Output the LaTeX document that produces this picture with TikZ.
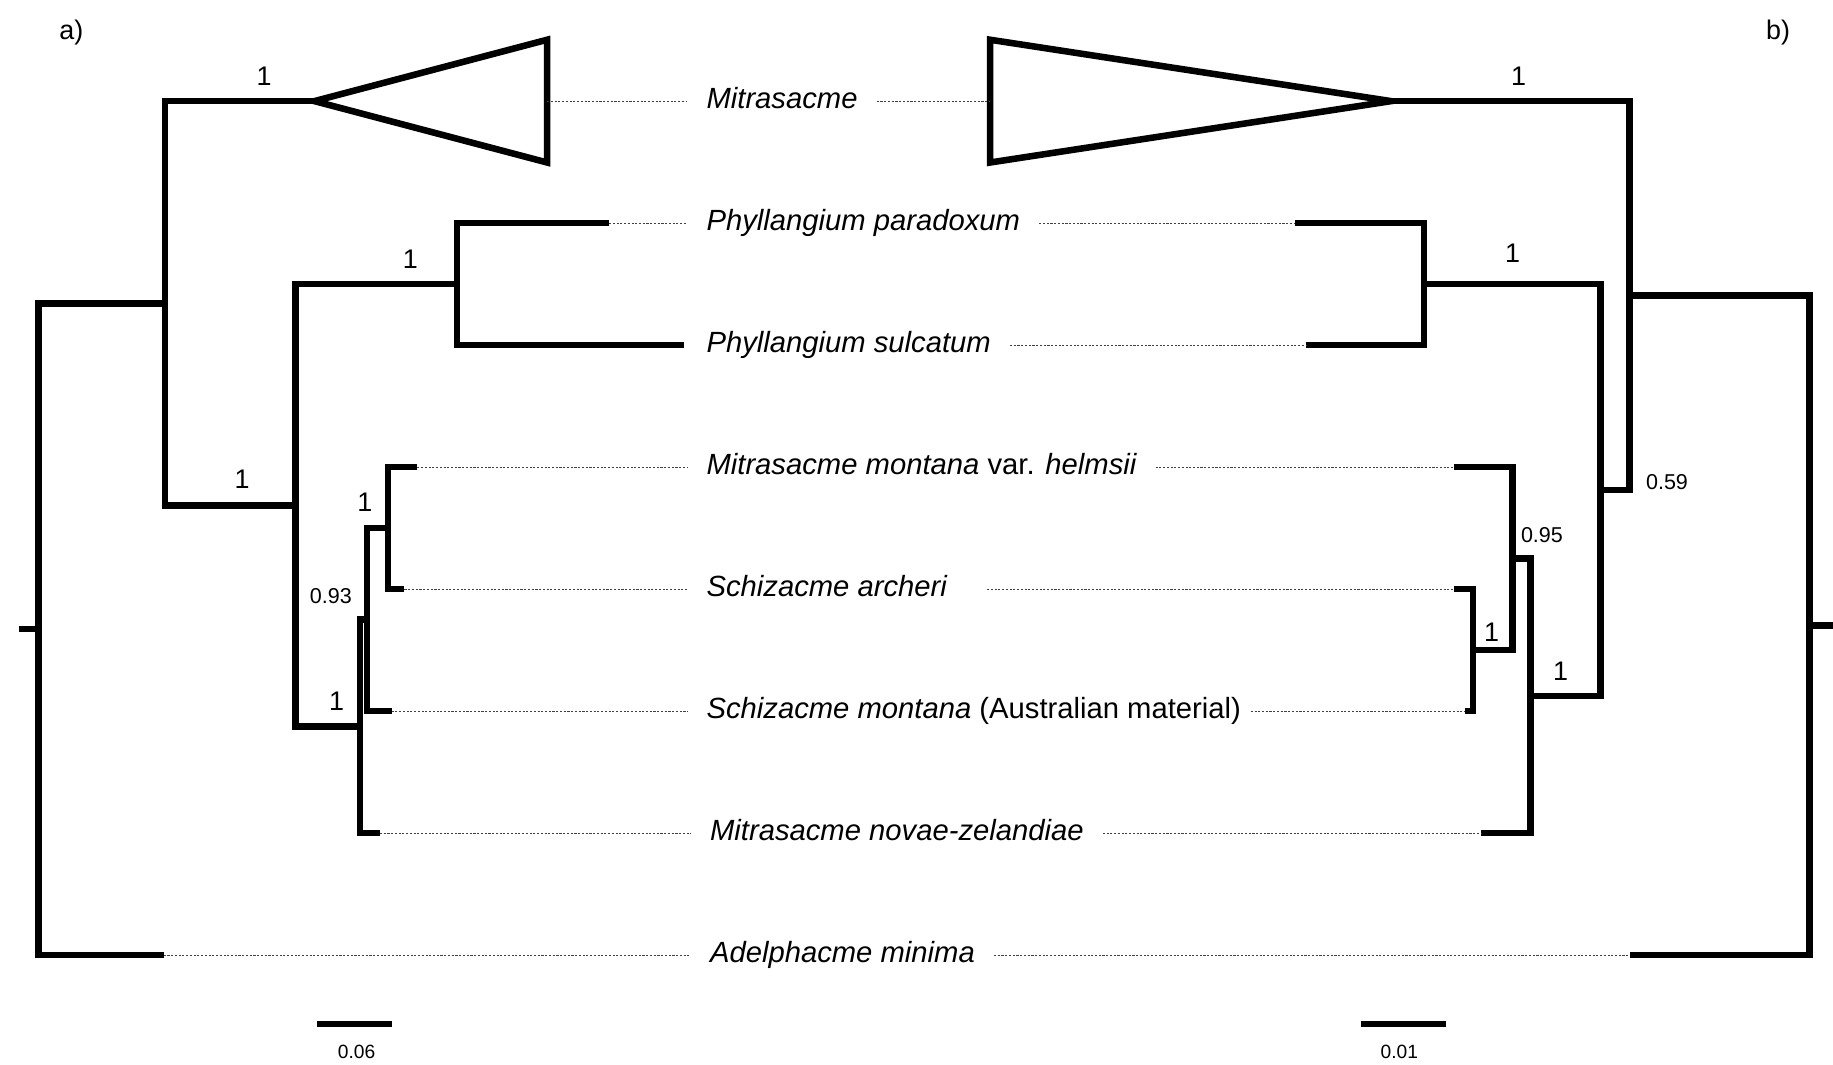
\documentclass[tikz,border=0pt]{standalone}
\usepackage{fontspec}
\setmainfont{Liberation Sans}
\tikzset{
    branch/.style={
           line width=2.8pt,
           line cap=butt,
           line join=miter,
           },
    leader/.style={
           line width=0.45pt,
           dash pattern=on 0.9pt off 0.7pt,
           draw=black!75,
           },
    taxon/.style={
           anchor=base west,
           inner xsep=8pt,
           inner ysep=0pt,
           font=\fontsize{12.5}{14}\selectfont\itshape,
           },
    supp/.style={
           inner sep=0pt,
           font=\fontsize{11.5}{13}\selectfont,
           },
    suppsmall/.style={
           inner sep=0pt,
           font=\fontsize{9.2}{11}\selectfont,
           },
    scalelab/.style={
           inner sep=0pt,
           font=\fontsize{8.2}{10}\selectfont,
           },
}
\begin{document}
\begin{tikzpicture}[x=0.5pt,y=-0.5pt]
	\useasboundingbox (0,0) rectangle (1568,911);

	% tree a), tips
	\coordinate (aMitr)  at (269,86.5);
	\coordinate (aMitrR) at (468,86.5);
	\coordinate (aPpar)  at (521,190.9);
	\coordinate (aPsul)  at (585,295.2);
	\coordinate (aMmon)  at (357,399.6);
	\coordinate (aSarc)  at (346,503.9);
	\coordinate (aSmon)  at (335,608.3);
	\coordinate (aMnov)  at (325,712.7);
	\coordinate (aAdel)  at (140,817);
	% tree a), inner nodes
	\coordinate (aN5)   at (332,451.75);
	\coordinate (aN4)   at (314,530);
	\coordinate (aN3)   at (308,621.4);
	\coordinate (aPhyl) at (391,243.1);
	\coordinate (aN2)   at (253,432.2);
	\coordinate (aN1)   at (141,259.4);
	\coordinate (aRoot) at (33,538.2);
	\coordinate (aStub) at (16,538.2);

	% tree b), tips
	\coordinate (bMitr)  at (1190,86.5);
	\coordinate (bMitrL) at (847,86.5);
	\coordinate (bPpar)  at (1108,190.9);
	\coordinate (bPsul)  at (1117,295.2);
	\coordinate (bMmon)  at (1244,399.6);
	\coordinate (bSarc)  at (1244,503.9);
	\coordinate (bSmon)  at (1253,608.3);
	\coordinate (bMnov)  at (1267,712.7);
	\coordinate (bAdel)  at (1394,817);
	% tree b), inner nodes
	\coordinate (bN5)   at (1260,556.1);
	\coordinate (bN4)   at (1294,477.9);
	\coordinate (bN3)   at (1309,595.3);
	\coordinate (bPhyl) at (1218,243.1);
	\coordinate (bN2)   at (1369,419.2);
	\coordinate (bN1)   at (1394,252.9);
	\coordinate (bRoot) at (1548,534.9);
	\coordinate (bStub) at (1568,534.9);

	% taxa
	\node[taxon] (lMitr) at (588,93)    {Mitrasacme};
	\node[taxon] (lPpar) at (588,196.9) {Phyllangium paradoxum};
	\node[taxon] (lPsul) at (588,301.2) {Phyllangium sulcatum};
	\node[taxon] (lMmon) at (588,405.6) {Mitrasacme montana \textup{var.} helmsii};
	\node[taxon] (lSarc) at (588,509.9) {Schizacme archeri};
	\node[taxon] (lSmon) at (588,614.3) {Schizacme montana \textup{(Australian material)}};
	\node[taxon] (lMnov) at (591,718.7) {Mitrasacme novae-zelandiae};
	\node[taxon] (lAdel) at (591,823)   {Adelphacme minima};

	% tree a)
	\draw[branch] (aStub) -- (aRoot);
	\draw[branch] (aN1) -| (aRoot) |- (aAdel);
	\draw[branch] (aMitr) -| (aN1) |- (aN2);
	\draw[branch] (aPhyl) -| (aN2) |- (aN3);
	\draw[branch] (aPpar) -| (aPhyl) |- (aPsul);
	\draw[branch] (aN4) -| (aN3) |- (aMnov);
	\draw[branch] (aN5) -| (aN4) |- (aSmon);
	\draw[branch] (aMmon) -| (aN5) |- (aSarc);
	\draw[branch] (aMitr) -- ++(199,-52.5) -- ++(0,105) -- cycle;

	% tree b)
	\draw[branch] (bStub) -- (bRoot);
	\draw[branch] (bN1) -| (bRoot) |- (bAdel);
	\draw[branch] (bMitr) -| (bN1) |- (bN2);
	\draw[branch] (bPhyl) -| (bN2) |- (bN3);
	\draw[branch] (bPpar) -| (bPhyl) |- (bPsul);
	\draw[branch] (bN4) -| (bN3) |- (bMnov);
	\draw[branch] (bMmon) -| (bN4) |- (bN5);
	\draw[branch] (bSarc) -| (bN5) |- (bSmon);
	\draw[branch] (bMitr) -- ++(-343,-52.5) -- ++(0,105) -- cycle;

	% leaders
	\draw[leader] (aMitrR) -- (lMitr.west |- aMitrR);
	\draw[leader] (aPpar) -- (lPpar.west |- aPpar);
	\draw[leader] (aMmon) -- (lMmon.west |- aMmon);
	\draw[leader] (aSarc) -- (lSarc.west |- aSarc);
	\draw[leader] (aSmon) -- (lSmon.west |- aSmon);
	\draw[leader] (aMnov) -- (lMnov.west |- aMnov);
	\draw[leader] (aAdel) -- (lAdel.west |- aAdel);
	\draw[leader] (lMitr.east |- bMitrL) -- (bMitrL);
	\draw[leader] (lPpar.east |- bPpar) -- (bPpar);
	\draw[leader] (lPsul.east |- bPsul) -- (bPsul);
	\draw[leader] (lMmon.east |- bMmon) -- (bMmon);
	\draw[leader] (lSarc.east |- bSarc) ++(18,0) -- (bSarc);
	\draw[leader] (lSmon.east |- bSmon) ++(-8,0) -- (bSmon);
	\draw[leader] (lMnov.east |- bMnov) -- (bMnov);
	\draw[leader] (lAdel.east |- bAdel) -- (bAdel);

	% support values
	\node[supp] (sa1) at (226,65) {1};
	\node[supp] (sa2) at (351,222) {1};
	\node[supp] (sa3) at (207,410) {1};
	\node[supp] (sa4) at (312,430) {1};
	\node[suppsmall] (sa5) at (283,510) {0.93};
	\node[supp] (sa6) at (288,600) {1};
	\node[supp] (sb1) at (1299,65) {1};
	\node[supp] (sb2) at (1294,217) {1};
	\node[suppsmall] (sb3) at (1426,412) {0.59};
	\node[suppsmall] (sb4) at (1319,458) {0.95};
	\node[supp] (sb5) at (1276,541) {1};
	\node[supp] (sb6) at (1335,574) {1};

	% panels and scale bars
	\node[supp] (pa) at (61,28) {a)};
	\node[supp] (pb) at (1521,28) {b)};
	\draw[branch] (271,876) -- ++(64,0);
	\node[scalelab] (sbA) at (305,900) {0.06};
	\draw[branch] (1164,876) -- ++(73,0);
	\node[scalelab] (sbB) at (1197,900) {0.01};
\end{tikzpicture}
\end{document}
